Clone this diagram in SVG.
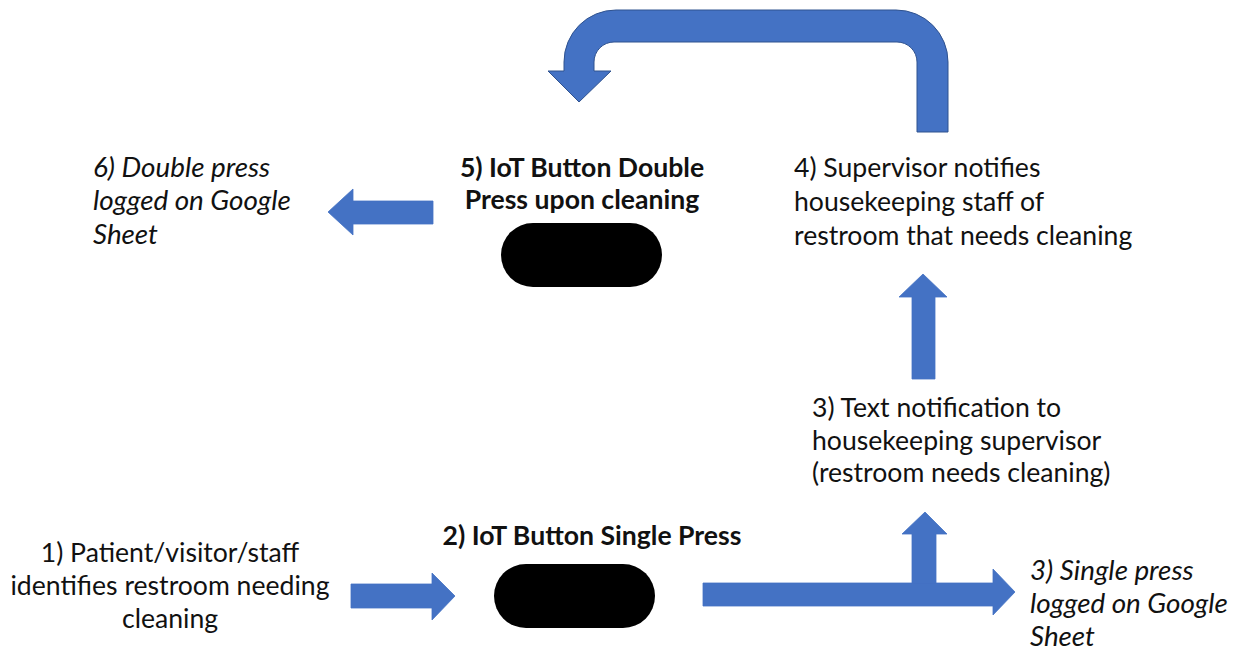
<svg xmlns="http://www.w3.org/2000/svg" width="1241" height="652" viewBox="0 0 1241 652">
  <style>
    .t { font-family: Lato, "Open Sans", sans-serif; font-size: 26.6px; fill: #111; }
    .b { font-weight: bold; }
    .i { font-style: italic; font-size: 27.8px; }
    .arrow { fill: #4472C4; stroke: #4472C4; stroke-width: 0.8; stroke-linejoin: miter; }
    .uarrow { fill: #4472C4; stroke: #2F528F; stroke-width: 1; }
    .pill { fill: #000; }
  </style>
  <rect width="1241" height="652" fill="#fff"/>

  <g id="connectors">
    <!-- U-turn arrow from step 4 back to step 5 -->
    <path class="uarrow" d="M948,132 L948,62 A52,52 0 0 0 896,10 L616,10 A52,52 0 0 0 564,62 L564,71 L548,71 L579,102 L611,71 L594,71 L594,62 A20,20 0 0 1 614,42 L897,42 A20,20 0 0 1 917,62 L917,132 Z"/>
    <!-- step 5 to step 6 (left) -->
    <path class="arrow" d="M433,201 L353,201 L353,189 L328,212 L353,235 L353,224 L433,224 Z"/>
    <!-- step 1 to step 2 -->
    <path class="arrow" d="M351,584 L432,584 L432,573 L455,596 L432,620 L432,608 L351,608 Z"/>
    <!-- step 2 to step 3 log (right) -->
    <path class="arrow" d="M703,583 L993,583 L993,569 L1015,592 L993,615 L993,606 L703,606 Z"/>
    <!-- branch up to text notification -->
    <path class="arrow" d="M912,583 L912,534 L902,534 L925,512 L947,534 L936,534 L936,583 Z"/>
    <!-- step 3 to step 4 -->
    <path class="arrow" d="M912,379 L912,297 L899,297 L923,274 L947,297 L935,297 L935,379 Z"/>
  </g>

  <g id="node-step6">
    <text class="t i" x="93" y="177">6) Double press</text>
    <text class="t i" x="93" y="210">logged on Google</text>
    <text class="t i" x="93" y="244">Sheet</text>
  </g>

  <g id="node-step5">
    <text class="t b" x="582" y="177" text-anchor="middle">5) IoT Button Double</text>
    <text class="t b" x="582" y="209" text-anchor="middle">Press upon cleaning</text>
    <rect class="pill" x="501" y="223" width="161" height="64" rx="32" ry="32"/>
  </g>

  <g id="node-step4">
    <text class="t" x="794" y="177">4) Supervisor notifies</text>
    <text class="t" x="794" y="211">housekeeping staff of</text>
    <text class="t" x="794" y="245">restroom that needs cleaning</text>
  </g>

  <g id="node-step3-text">
    <text class="t" x="812" y="417">3) Text notification to</text>
    <text class="t" x="812" y="450">housekeeping supervisor</text>
    <text class="t" x="812" y="482">(restroom needs cleaning)</text>
  </g>

  <g id="node-step1">
    <text class="t" x="170" y="562" text-anchor="middle">1) Patient/visitor/staff</text>
    <text class="t" x="170" y="595" text-anchor="middle">identifies restroom needing</text>
    <text class="t" x="170" y="628" text-anchor="middle">cleaning</text>
  </g>

  <g id="node-step2">
    <text class="t b" x="592" y="545" text-anchor="middle">2) IoT Button Single Press</text>
    <rect class="pill" x="494" y="564" width="161" height="64" rx="32" ry="32"/>
  </g>

  <g id="node-step3-log">
    <text class="t i" x="1030" y="580">3) Single press</text>
    <text class="t i" x="1030" y="613">logged on Google</text>
    <text class="t i" x="1030" y="646">Sheet</text>
  </g>
</svg>
